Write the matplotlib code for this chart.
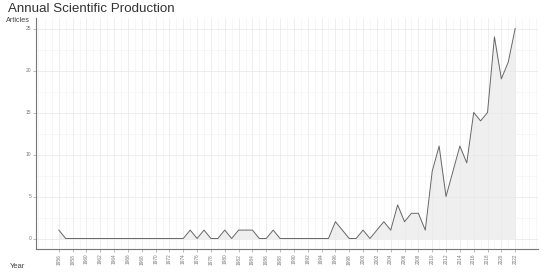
import matplotlib
matplotlib.use("Agg")
import matplotlib.pyplot as plt
import numpy as np

plt.rcParams['font.family'] = ['Liberation Sans', 'DejaVu Sans']

years = list(range(1956, 2023))
articles = [1] + [0]*18 + [1, 0, 1, 0, 0, 1, 0, 1, 1, 1, 0, 0, 1] + [0]*8 + \
    [2, 1, 0, 0, 1, 0, 1, 2, 1, 4, 2, 3, 3, 1, 8, 11, 5, 8, 11, 9, 15, 14, 15, 24, 19, 21, 25]
assert len(years) == len(articles)
xticks = list(range(1956, 2023, 2))
yticks = [0, 5, 10, 15, 20, 25]

fig = plt.figure(figsize=(5.5, 2.74), dpi=100)
ax = fig.add_axes([36/550, 25/274, (538-36)/550, (256-25)/274])

ax.fill_between(years, articles, 0, color="#efefef", lw=0, zorder=1)
ax.plot(years, articles, color="#666666", lw=0.7, zorder=2)

ax.set_xlim(1952.7, 2025.3)
ax.set_ylim(-1.25, 26.25)
ax.set_xticks(xticks)
ax.set_xticklabels([str(y) for y in xticks], rotation=90, fontsize=3.4, color="#777777")
ax.set_yticks(yticks)
ax.set_yticklabels([str(v) for v in yticks], fontsize=3.6, color="#777777")
ax.set_xticks(np.arange(1953, 2026, 1), minor=True)
ax.set_yticks(np.arange(-0.0, 26, 2.5), minor=True)
ax.grid(which="major", color="#e8e8e8", lw=0.5, zorder=0)
ax.grid(which="minor", color="#f2f2f2", lw=0.4, zorder=0)
ax.tick_params(which="major", length=2, width=0.4, color="#888888", pad=1.5)
ax.tick_params(which="minor", length=0)
for s in ["top", "right"]:
    ax.spines[s].set_visible(False)
for s in ["left", "bottom"]:
    ax.spines[s].set_color("#777777")
    ax.spines[s].set_linewidth(0.8)

fig.text(8/550, 1 - 9/274, "Annual Scientific Production", fontsize=9.6, color="#333333",
         ha="left", va="center")
fig.text(6/550, 1 - 21/274, "Articles", fontsize=5.2, color="#444444", ha="left", va="center")
fig.text(10/550, 1 - 266/274, "Year", fontsize=5.5, color="#444444", ha="left", va="center")

fig.savefig("out.png", dpi=100)
